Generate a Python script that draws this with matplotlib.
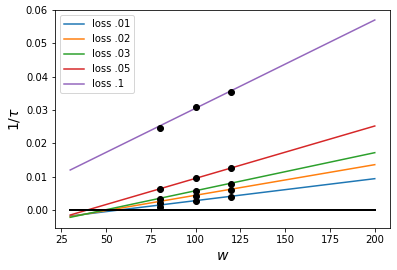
import numpy as np
import matplotlib
matplotlib.use('Agg')
import matplotlib.pyplot as plt

# loss levels shown in the legend
labels = ['loss .01', 'loss .02', 'loss .03', 'loss .05', 'loss .1']

# line endpoints (w = 30 and w = 200)
w_line = [30, 200]
line_start = [-0.0018, -0.0020, -0.0022, -0.0015, 0.0120]
line_end = [0.0094, 0.0136, 0.0172, 0.0252, 0.0570]

# measured points at w = 80, 100, 120
w_pts = [80, 100, 120]
pts = [
    [0.0010, 0.0028, 0.0038],
    [0.0022, 0.0042, 0.0060],
    [0.0033, 0.0057, 0.0078],
    [0.0062, 0.0095, 0.0126],
    [0.0246, 0.0309, 0.0355],
]

fig = plt.figure(figsize=(397 / 72, 270 / 72), dpi=72)
fig.subplots_adjust(left=55 / 397, right=390 / 397, top=1 - 10 / 270, bottom=1 - 228 / 270)
ax = fig.add_subplot(111)

for lab, y0, y1 in zip(labels, line_start, line_end):
    ax.plot(w_line, [y0, y1], label=lab)
for p in pts:
    ax.plot(w_pts, p, 'ko')
ax.plot(w_line, [0, 0], 'k', lw=2)

ax.set_ylim(-0.0054, 0.060)
ax.set_xlabel('$w$', fontsize=14)
ax.set_ylabel('$1/\\tau$', fontsize=14)
ax.legend(loc='upper left')

fig.savefig('out.png', dpi=72)
